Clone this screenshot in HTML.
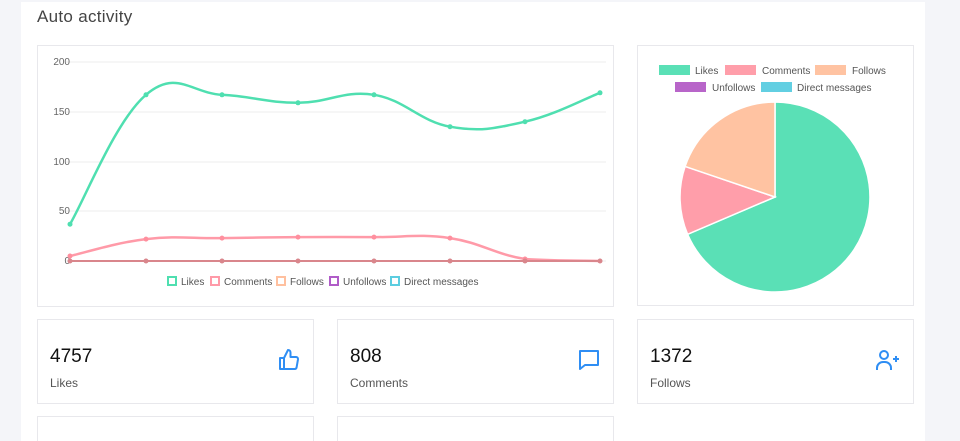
<!DOCTYPE html>
<html style="overflow:hidden;height:441px"><head><meta charset="utf-8"><style>
body{margin:0;width:960px;height:441px;background:#f4f5f9;font-family:"Liberation Sans",sans-serif;overflow:hidden;position:relative}
.main{position:absolute;left:21px;top:2px;width:904px;height:439px;background:#fff}
.title{position:absolute;left:37px;top:7px;font-size:17px;color:#444;letter-spacing:0.3px}
.box{position:absolute;background:#fff;border:1px solid #e8e8ec;box-sizing:border-box}
.num{position:absolute;left:12px;top:26px;font-size:19px;color:#111}
.lab{position:absolute;left:12px;top:56px;font-size:12px;color:#555}
.ic{position:absolute;right:12px;top:28px}
</style></head><body>
<div class="main"></div>
<div class="title">Auto activity</div>
<div class="box" style="left:37px;top:45px;width:577px;height:262px"></div>
<div class="box" style="left:637px;top:45px;width:277px;height:261px"></div>
<svg style="position:absolute;left:0;top:0" width="960" height="441" font-family="Liberation Sans, sans-serif">
<g stroke="#ececec" stroke-width="1">
<line x1="66" y1="62" x2="606" y2="62"/><line x1="66" y1="112" x2="606" y2="112"/><line x1="66" y1="162" x2="606" y2="162"/><line x1="66" y1="211" x2="606" y2="211"/><line x1="66" y1="261" x2="606" y2="261"/>
</g>
<g font-size="10" fill="#666" text-anchor="end">
<text x="70" y="65">200</text><text x="70" y="115">150</text><text x="70" y="165">100</text><text x="70" y="214">50</text><text x="70" y="264">0</text>
</g>
<path d="M70,224.2 C85.2,198.3 115.6,120.7 146,94.8 C176.4,68.9 191.6,93.2 222,94.8 C252.4,96.4 267.6,102.8 298,102.8 C328.4,102.8 343.6,90 374,94.8 C404.4,99.6 419.8,121.3 450,126.7 C480.2,132.1 495,128.5 525,121.7 C555,114.9 585,98.6 600,92.8" fill="none" stroke="#4fdfb0" stroke-width="2.5"/>
<path d="M70,256 C85.2,252.6 115.6,242.7 146,239.1 C176.4,235.5 191.6,238.5 222,238.1 C252.4,237.7 267.6,237.3 298,237.1 C328.4,236.9 343.6,236.9 374,237.1 C404.4,237.3 419.8,233.7 450,238.1 C480.2,242.5 495,254.4 525,259 C555,261 585,260.6 600,261" fill="none" stroke="#ff9aa8" stroke-width="2.5"/>
<line x1="70" y1="261" x2="600" y2="261" stroke="#d9868c" stroke-width="2"/>
<g fill="#4fdfb0"><circle cx="70" cy="224.2" r="2.5"/><circle cx="146" cy="94.8" r="2.5"/><circle cx="222" cy="94.8" r="2.5"/><circle cx="298" cy="102.8" r="2.5"/><circle cx="374" cy="94.8" r="2.5"/><circle cx="450" cy="126.7" r="2.5"/><circle cx="525" cy="121.7" r="2.5"/><circle cx="600" cy="92.8" r="2.5"/></g>
<g fill="#ff8f9e"><circle cx="70" cy="256" r="2.5"/><circle cx="146" cy="239.1" r="2.5"/><circle cx="222" cy="238.1" r="2.5"/><circle cx="298" cy="237.1" r="2.5"/><circle cx="374" cy="237.1" r="2.5"/><circle cx="450" cy="238.1" r="2.5"/><circle cx="525" cy="259" r="2.5"/></g>
<g fill="#d9868c"><circle cx="70" cy="261" r="2.5"/><circle cx="146" cy="261" r="2.5"/><circle cx="222" cy="261" r="2.5"/><circle cx="298" cy="261" r="2.5"/><circle cx="374" cy="261" r="2.5"/><circle cx="450" cy="261" r="2.5"/><circle cx="525" cy="261" r="2.5"/><circle cx="600" cy="261" r="2.5"/></g>
<g font-size="10" fill="#555" stroke-width="2">
<rect x="168" y="277" width="8" height="8" fill="#fff" stroke="#4fdfb0"/><text x="181" y="285" fill="#555">Likes</text>
<rect x="211" y="277" width="8" height="8" fill="#fff" stroke="#ff9aa8"/><text x="224" y="285" fill="#555">Comments</text>
<rect x="277" y="277" width="8" height="8" fill="#fff" stroke="#ffc09f"/><text x="290" y="285" fill="#555">Follows</text>
<rect x="330" y="277" width="8" height="8" fill="#fff" stroke="#b05cc8"/><text x="343" y="285" fill="#555">Unfollows</text>
<rect x="391" y="277" width="8" height="8" fill="#fff" stroke="#5ccde0"/><text x="404" y="285" fill="#555">Direct messages</text>
</g>
<g font-size="10" fill="#555">
<rect x="659" y="65" width="31" height="10" fill="#5ae0b6"/><text x="695" y="74">Likes</text>
<rect x="725" y="65" width="31" height="10" fill="#ff9eaa"/><text x="762" y="74">Comments</text>
<rect x="815" y="65" width="31" height="10" fill="#ffc3a2"/><text x="852" y="74">Follows</text>
<rect x="675" y="82" width="31" height="10" fill="#b865c9"/><text x="712" y="91">Unfollows</text>
<rect x="761" y="82" width="31" height="10" fill="#62cfe2"/><text x="797" y="91">Direct messages</text>
</g>
<g stroke="#fff" stroke-width="1.5">
<path d="M775,197 L775,102 A95,95 0 1,1 687.6,234.3 Z" fill="#5ae0b6"/>
<path d="M775,197 L687.6,234.3 A95,95 0 0,1 685.1,166.4 Z" fill="#ff9eaa"/>
<path d="M775,197 L685.1,166.4 A95,95 0 0,1 775,102 Z" fill="#ffc3a2"/>
</g>
</svg>
<div class="box" style="left:37px;top:319px;width:277px;height:85px"><div class="num">4757</div><div class="lab">Likes</div>
<svg class="ic" width="24" height="24" viewBox="0 0 24 24" fill="none" stroke="#2f8ef4" stroke-width="2" stroke-linejoin="round"><path d="M7 10v11H3V10zM7 10l4-8c1.5 0 2.5 1 2.5 2.5V9h5.5a2 2 0 0 1 2 2.3l-1.4 8A2 2 0 0 1 17.6 21H7"/></svg></div>
<div class="box" style="left:337px;top:319px;width:277px;height:85px"><div class="num">808</div><div class="lab">Comments</div>
<svg class="ic" width="24" height="24" viewBox="0 0 24 24" fill="none" stroke="#2f8ef4" stroke-width="2" stroke-linejoin="round"><path d="M3 3h18v14H8l-5 4z"/></svg></div>
<div class="box" style="left:637px;top:319px;width:277px;height:85px"><div class="num">1372</div><div class="lab">Follows</div>
<svg class="ic" width="26" height="24" viewBox="0 0 26 24" fill="none" stroke="#2f8ef4" stroke-width="2"><circle cx="9" cy="7" r="4"/><path d="M2 22v-2a6 6 0 0 1 6-6h2a6 6 0 0 1 6 6v2M21 8v6M18 11h6"/></svg></div>
<div class="box" style="left:37px;top:416px;width:277px;height:25px;border-bottom:none"></div>
<div class="box" style="left:337px;top:416px;width:277px;height:25px;border-bottom:none"></div>
</body></html>
